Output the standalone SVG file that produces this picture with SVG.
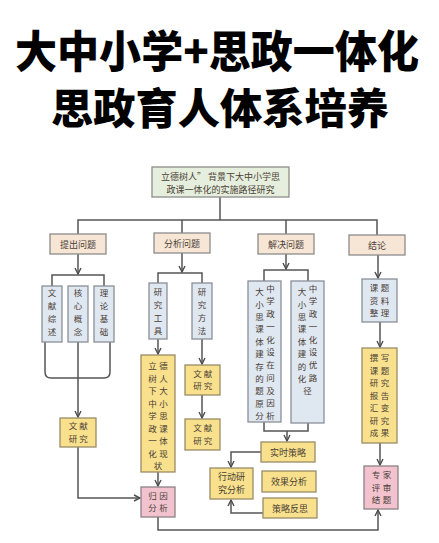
<svg xmlns="http://www.w3.org/2000/svg" width="439" height="543" viewBox="0 0 439 543">
<defs>
<marker id="ah" markerUnits="userSpaceOnUse" markerWidth="8" markerHeight="8" refX="7" refY="4" orient="auto"><path d="M1,1 L7,4 L1,7" fill="none" stroke="#4d4d4d" stroke-width="1.4"/></marker>
</defs>
<style>
.t{font-family:"Noto Sans CJK SC","Noto Sans CJK JP",sans-serif;font-size:8.5px;fill:#4a4036;text-anchor:middle}
.s{font-size:9px}
.title{font-family:"Noto Sans CJK SC","Noto Sans CJK JP",sans-serif;font-weight:900;fill:#000;text-anchor:middle}
.c{fill:none;stroke:#555;stroke-width:1.5}
.a{marker-end:url(#ah)}
.g{fill:#e6efdd;stroke:#8c8c8c;stroke-width:1.3}
.h{fill:#f7e5d5;stroke:#8c8c8c;stroke-width:1.3}
.b{fill:#dfe7f1;stroke:#8a8f98;stroke-width:1.3}
.y{fill:#f9e08c;stroke:#9a8c66;stroke-width:1.3}
.p{fill:#f2c3cf;stroke:#8c8286;stroke-width:1.3}
</style>
<rect width="439" height="543" fill="#fff"/>
<g id="title">
<text class="title" x="217" y="68" font-size="44" textLength="404" lengthAdjust="spacingAndGlyphs">大中小学+思政一体化</text>
<text class="title" x="220" y="124" font-size="42" textLength="338" lengthAdjust="spacingAndGlyphs">思政育人体系培养</text>
</g>
<g id="connectors">
<path class="c" d="M220,197 V220 M78,234 V220 H377 V235 M182,220 V233 M286,220 V234"/>
<path class="c a" d="M78,254 V274"/>
<path class="c" d="M52,286 V275 H104 V286"/>
<path class="c a" d="M78,342 V417"/>
<path class="c" d="M45,342 V372 Q45,378 51,378 H104 Q110,378 110,372 V342"/>
<path class="c a" d="M78,447 V498 H140"/>
<path class="c a" d="M182,253 V272"/>
<path class="c" d="M158,283 V273 H202 V283"/>
<path class="c a" d="M158,339 V354"/>
<path class="c a" d="M158,472 V486"/>
<path class="c a" d="M202,339 V364"/>
<path class="c a" d="M202,395 V418"/>
<path class="c a" d="M286,254 V269"/>
<path class="c" d="M264,281 V270 H308 V281"/>
<path class="c" d="M264,422 V431 H308 V423"/>
<path class="c a" d="M287,431 V441"/>
<path class="c a" d="M261,452 H231 V467"/>
<path class="c a" d="M263,513 H231 V500"/>
<path class="c a" d="M158,517 V530 H378 V510"/>
<path class="c a" d="M378,255 V278"/>
<path class="c a" d="M380,322 V347"/>
<path class="c a" d="M380,443 V465"/>
</g>
<g id="root">
<rect class="g" x="152" y="167" width="137" height="30"/>
<text class="t s" x="220.5" y="179.5">立德树人” 背景下大中小学思</text>
<text class="t s" x="220.5" y="192.5">政课一体化的实施路径研究</text>
</g>
<g id="h1"><rect class="h" x="50" y="234" width="56" height="20"/><text class="t s" x="78" y="247.5">提出问题</text></g>
<g id="h2"><rect class="h" x="154" y="233" width="56" height="20"/><text class="t s" x="182" y="246.5">分析问题</text></g>
<g id="h3"><rect class="h" x="258" y="234" width="56" height="20"/><text class="t s" x="286" y="247.5">解决问题</text></g>
<g id="h4"><rect class="h" x="349" y="235" width="56" height="20"/><text class="t s" x="377" y="248.5">结论</text></g>
<g id="n-wxzs"><rect class="b" x="42" y="286" width="20" height="56"/>
<text class="t"><tspan x="52" y="295.5">文</tspan><tspan x="52" y="308.8">献</tspan><tspan x="52" y="322.1">综</tspan><tspan x="52" y="335.4">述</tspan></text></g>
<g id="n-hxgn"><rect class="b" x="68" y="286" width="20" height="56"/>
<text class="t"><tspan x="78" y="295.5">核</tspan><tspan x="78" y="308.8">心</tspan><tspan x="78" y="322.1">概</tspan><tspan x="78" y="335.4">念</tspan></text></g>
<g id="n-lljc"><rect class="b" x="94" y="286" width="20" height="56"/>
<text class="t"><tspan x="104" y="295.5">理</tspan><tspan x="104" y="308.8">论</tspan><tspan x="104" y="322.1">基</tspan><tspan x="104" y="335.4">础</tspan></text></g>
<g id="n-wxyj1"><rect class="y" x="60" y="418" width="36" height="29"/>
<text class="t"><tspan x="73" y="429.4">文</tspan><tspan x="83.5" y="429.4">献</tspan><tspan x="73" y="441.9">研</tspan><tspan x="83.5" y="441.9">究</tspan></text></g>
<g id="n-yjgj"><rect class="b" x="149" y="283" width="18" height="56"/>
<text class="t"><tspan x="158" y="294.5">研</tspan><tspan x="158" y="307.8">究</tspan><tspan x="158" y="321.1">工</tspan><tspan x="158" y="334.4">具</tspan></text></g>
<g id="n-yjff"><rect class="b" x="192" y="283" width="20" height="56"/>
<text class="t"><tspan x="202" y="294.5">研</tspan><tspan x="202" y="307.8">究</tspan><tspan x="202" y="321.1">方</tspan><tspan x="202" y="334.4">法</tspan></text></g>
<g id="n-xz"><rect class="y" x="141" y="355" width="34" height="117"/>
<text class="t"><tspan x="152.5" y="369">立</tspan><tspan x="163.5" y="369">德</tspan><tspan x="152.5" y="381.5">树</tspan><tspan x="163.5" y="381.5">人</tspan><tspan x="152.5" y="394">下</tspan><tspan x="163.5" y="394">大</tspan><tspan x="152.5" y="406.5">中</tspan><tspan x="163.5" y="406.5">小</tspan><tspan x="152.5" y="419">学</tspan><tspan x="163.5" y="419">思</tspan><tspan x="152.5" y="431.5">政</tspan><tspan x="163.5" y="431.5">课</tspan><tspan x="152.5" y="444">一</tspan><tspan x="163.5" y="444">体</tspan><tspan x="152.5" y="456.5">化</tspan><tspan x="163.5" y="456.5">现</tspan><tspan x="158" y="469">状</tspan></text></g>
<g id="n-wxyj2"><rect class="y" x="185" y="365" width="35" height="30"/>
<text class="t"><tspan x="197.5" y="376.9">文</tspan><tspan x="208" y="376.9">献</tspan><tspan x="197.5" y="389.4">研</tspan><tspan x="208" y="389.4">究</tspan></text></g>
<g id="n-wxyj3"><rect class="y" x="185" y="419" width="35" height="31"/>
<text class="t"><tspan x="197.5" y="431.4">文</tspan><tspan x="208" y="431.4">献</tspan><tspan x="197.5" y="443.9">研</tspan><tspan x="208" y="443.9">究</tspan></text></g>
<g id="n-gyfx"><rect class="p" x="141" y="487" width="34" height="30"/>
<text class="t"><tspan x="152.5" y="498.9">归</tspan><tspan x="163.5" y="498.9">因</tspan><tspan x="152.5" y="511.4">分</tspan><tspan x="163.5" y="511.4">析</tspan></text></g>
<g id="n-wt"><rect class="b" x="248" y="281" width="33" height="141"/>
<text class="t"><tspan x="259.5" y="295.1">大</tspan><tspan x="259.5" y="307.5">小</tspan><tspan x="259.5" y="319.9">思</tspan><tspan x="259.5" y="332.3">课</tspan><tspan x="259.5" y="344.7">体</tspan><tspan x="259.5" y="357.1">建</tspan><tspan x="259.5" y="369.5">存</tspan><tspan x="259.5" y="381.9">的</tspan><tspan x="259.5" y="394.3">题</tspan><tspan x="259.5" y="406.7">原</tspan><tspan x="259.5" y="419.1">分</tspan></text>
<text class="t"><tspan x="270.5" y="291.6">中</tspan><tspan x="270.5" y="304.35">学</tspan><tspan x="270.5" y="317.1">政</tspan><tspan x="270.5" y="329.85">一</tspan><tspan x="270.5" y="342.6">化</tspan><tspan x="270.5" y="355.35">设</tspan><tspan x="270.5" y="368.1">在</tspan><tspan x="270.5" y="380.85">问</tspan><tspan x="270.5" y="393.6">及</tspan><tspan x="270.5" y="406.35">因</tspan><tspan x="270.5" y="419.1">析</tspan></text></g>
<g id="n-lj"><rect class="b" x="291" y="281" width="33" height="142"/>
<text class="t"><tspan x="302" y="295.1">大</tspan><tspan x="302" y="307.5">小</tspan><tspan x="302" y="319.9">思</tspan><tspan x="302" y="332.3">课</tspan><tspan x="302" y="344.7">体</tspan><tspan x="302" y="357.1">建</tspan><tspan x="302" y="369.5">的</tspan><tspan x="302" y="381.9">化</tspan><tspan x="307.5" y="394.3">径</tspan></text>
<text class="t"><tspan x="313" y="291.6">中</tspan><tspan x="313" y="304.35">学</tspan><tspan x="313" y="317.1">政</tspan><tspan x="313" y="329.85">一</tspan><tspan x="313" y="342.6">化</tspan><tspan x="313" y="355.35">设</tspan><tspan x="313" y="368.1">优</tspan><tspan x="313" y="380.85">路</tspan></text></g>
<g id="n-sscl"><rect class="y" x="261" y="442" width="54" height="20"/><text class="t s" x="288" y="455.5">实时策略</text></g>
<g id="n-xdyj"><rect class="y" x="210" y="468" width="43" height="31"/><text class="t s" x="231.5" y="480.2">行动研</text><text class="t s" x="231.5" y="493.2">究分析</text></g>
<g id="n-xgfx"><rect class="y" x="262" y="471" width="54" height="21"/><text class="t s" x="289" y="485">效果分析</text></g>
<g id="n-clfs"><rect class="y" x="263" y="498" width="54" height="20"/><text class="t s" x="290" y="511.5">策略反思</text></g>
<g id="n-zlzl"><rect class="b" x="362" y="279" width="35" height="43"/>
<text class="t"><tspan x="374" y="291.1">课</tspan><tspan x="385" y="291.1">题</tspan><tspan x="374" y="303.6">资</tspan><tspan x="385" y="303.6">料</tspan><tspan x="374" y="316.1">整</tspan><tspan x="385" y="316.1">理</tspan></text></g>
<g id="n-zx"><rect class="y" x="362" y="348" width="35" height="95"/>
<text class="t"><tspan x="374" y="361.1">撰</tspan><tspan x="385" y="361.1">写</tspan><tspan x="374" y="373.6">课</tspan><tspan x="385" y="373.6">题</tspan><tspan x="374" y="386.1">研</tspan><tspan x="385" y="386.1">究</tspan><tspan x="374" y="398.6">报</tspan><tspan x="385" y="398.6">告</tspan><tspan x="374" y="411.1">汇</tspan><tspan x="385" y="411.1">变</tspan><tspan x="374" y="423.6">研</tspan><tspan x="385" y="423.6">究</tspan><tspan x="374" y="436.1">成</tspan><tspan x="385" y="436.1">果</tspan></text></g>
<g id="n-zjps"><rect class="p" x="364" y="466" width="34" height="43"/>
<text class="t"><tspan x="376" y="478.1">专</tspan><tspan x="387" y="478.1">家</tspan><tspan x="376" y="490.6">评</tspan><tspan x="387" y="490.6">审</tspan><tspan x="376" y="503.1">结</tspan><tspan x="387" y="503.1">题</tspan></text></g>
</svg>
